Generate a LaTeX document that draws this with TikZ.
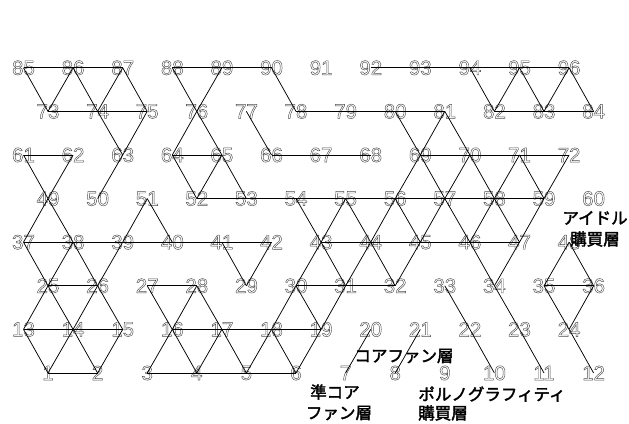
\documentclass[tikz,border=0pt]{standalone}
\usepackage{fontspec}
\setmainfont{Liberation Sans}
\newfontfamily\jp{Noto Sans CJK JP}
\newcommand\outl[1]{\special{pdf:literal direct 1 Tr 0.45 w 0.3 G}#1\special{pdf:literal direct 0 Tr 0 G}}
\newcommand\heavy[1]{\special{pdf:literal direct 2 Tr 0.35 w 0 G}#1\special{pdf:literal direct 0 Tr 0 G}}
\begin{document}
\begin{tikzpicture}[x=1pt,y=1pt,
  num/.style={inner sep=0pt,font=\fontsize{20.5}{22}\selectfont},
  edge/.style={draw=black,line width=0.75pt},
  lab/.style={inner sep=0pt,font=\jp\fontsize{16.5}{18}\selectfont}]
\useasboundingbox (0,0) rectangle (629,423);
\foreach \n in {1,...,96} {
  \pgfmathtruncatemacro\r{floor((\n-1)/12)}
  \pgfmathtruncatemacro\c{mod(\n-1,12)}
  \pgfmathsetmacro\xx{(mod(\r,2)==0 ? 48 : 23.5) + 49.6*\c}
  \pgfmathsetmacro\yy{50 + 43.6*\r}
  \node[num] (n\n) at (\xx,\yy) {\outl{\n}};
}
% horizontal connectors
\foreach \a/\b in {1/2, 3/4, 4/5, 5/6, 13/14, 14/15, 16/17, 17/18, 18/19,
  25/26, 27/28, 30/31, 31/32, 35/36,
  37/38, 38/39, 39/40, 40/41, 41/42, 43/44, 44/45, 45/46, 46/47,
  52/53, 53/54, 54/55, 55/56, 56/57, 57/58, 58/59,
  61/62, 64/65, 66/67, 67/68, 69/70, 70/71, 71/72,
  73/74, 74/75, 78/79, 79/80, 80/81, 82/83, 83/84,
  85/86, 86/87, 88/89, 89/90, 92/93, 93/94, 94/95, 95/96}
  \draw[edge] (n\a.center) -- (n\b.center);
% diagonal connectors
\foreach \a/\b in {85/73, 86/73, 86/74, 87/74, 87/75, 88/76, 89/76, 90/78,
  94/82, 95/82, 95/83, 96/83, 96/84,
  74/63, 75/63, 76/64, 76/65, 77/66, 80/69, 81/69, 81/70,
  61/49, 62/49, 63/50, 64/52, 65/52, 65/53, 69/56, 69/57, 70/57, 70/58, 71/58, 71/59, 72/59,
  49/37, 49/38, 51/39, 51/40, 54/43, 55/43, 55/44, 56/44, 56/45, 57/45, 57/46, 58/46, 58/47, 59/47,
  37/25, 38/25, 38/26, 39/26, 41/29, 42/29, 43/30, 43/31, 44/31, 44/32, 45/32, 46/34, 47/34, 48/35, 48/36,
  25/13, 25/14, 26/14, 26/15, 27/16, 28/16, 28/17, 30/18, 30/19, 31/19, 33/22, 34/23, 35/24, 36/24,
  13/1, 14/1, 14/2, 15/2, 16/3, 16/4, 17/4, 17/5, 18/5, 18/6, 19/6, 20/7, 21/8, 22/10, 23/11, 24/12}
  \draw[edge] (n\a.center) -- (n\b.center);
% labels
\node[lab] (idol1) at (595,205) {\heavy{アイドル}};
\node[lab] (idol2) at (595,184) {\heavy{購買層}};
\node[lab] (core) at (404,67) {\heavy{コアファン層}};
\node[lab] (semi1) at (335,31) {\heavy{準コア}};
\node[lab] (semi2) at (339,10) {\heavy{ファン層}};
\node[lab] (porn1) at (492,29) {\heavy{ポルノグラフィティ}};
\node[lab] (porn2) at (443,10) {\heavy{購買層}};
\end{tikzpicture}
\end{document}
